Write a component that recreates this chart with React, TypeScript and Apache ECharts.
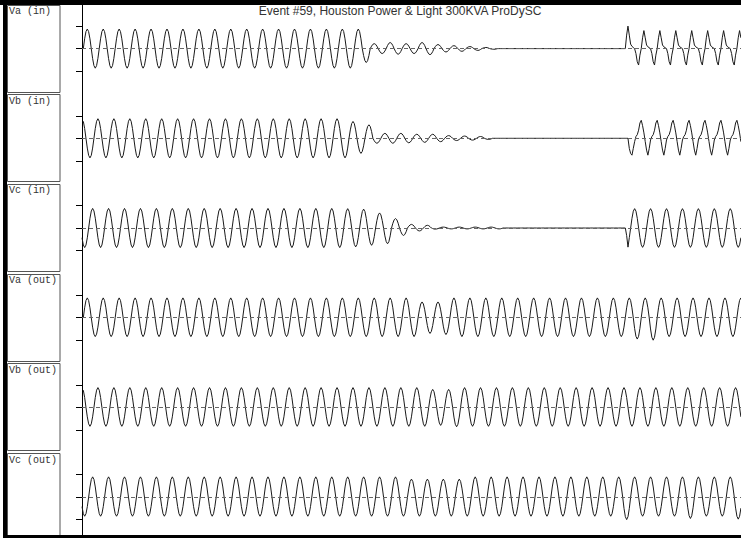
import React, { useEffect, useRef } from "react";
import * as echarts from "echarts";

const TITLE = "Event #59, Houston Power & Light 300KVA ProDySC";
const CHANNELS = ["Va (in)", "Vb (in)", "Vc (in)", "Va (out)", "Vb (out)", "Vc (out)"];

// time axis (ms), 60 Hz
const PERIOD_MS = 16.667;
const TIME_MAX_MS = 689;
// time of the upward zero crossing of cycle 0 for each channel
const PHASE_START_MS = [1.36, -4.18, -9.72, 1.36, -4.18, -9.72];

// one cycle, 12 samples from the upward zero crossing
const SHAPE_SINE = [0, 0.5, 0.87, 1, 0.87, 0.5, 0, -0.5, -0.87, -1, -0.87, -0.5];
const SHAPE_NOTCH_A = [0, 0.6, 1, 0.6, 0.2, 0.1, 0.05, 0, -0.3, -0.8, -1, -0.4];
const SHAPE_NOTCH_B = [0.1, 0.2, 0.45, 0.85, 1, 0.7, 0.3, -0.2, -0.7, -1, -0.6, -0.1];
const SHAPE_RESUME_B = [0, 0, 0, 0, 0, 0, 0, -0.6, -0.9, -1, -0.6, -0.2];
const SHAPE_RESUME_C = [0, 0, 0, 0, 0, 0, 0, 0, 0, -0.4, -1, -0.5];

// runs of cycles: [cycle count, positive peak, negative peak, shape]
type Run = [number, number, number, string];
const VA_IN: Run[] = [
  [17, 0.87, 0.87, "s"], [1, 0.87, 0.62, "s"], [1, 0.22, 0.22, "s"], [1, 0.27, 0.25, "s"],
  [1, 0.22, 0.22, "s"], [1, 0.27, 0.27, "s"], [1, 0.18, 0.15, "s"], [1, 0.13, 0.12, "s"],
  [1, 0.09, 0.08, "s"], [1, 0.05, 0.03, "s"], [8, 0, 0, "s"], [1, 1.0, 0.73, "a"], [7, 0.8, 0.73, "a"],
];
const VB_IN: Run[] = [
  [17, 0.87, 0.87, "s"], [1, 0.75, 0.67, "s"], [1, 0.6, 0.22, "s"], [1, 0.22, 0.22, "s"],
  [1, 0.22, 0.2, "s"], [1, 0.18, 0.18, "s"], [1, 0.18, 0.15, "s"], [1, 0.12, 0.1, "s"],
  [1, 0.1, 0.08, "s"], [1, 0.08, 0.05, "s"], [8, 0, 0, "s"], [1, 0, 0.75, "rb"], [7, 0.8, 0.75, "b"],
];
const VC_IN: Run[] = [
  [17, 0.87, 0.87, "s"], [1, 0.86, 0.84, "s"], [1, 0.84, 0.77, "s"], [1, 0.67, 0.7, "s"],
  [1, 0.42, 0.33, "s"], [1, 0.16, 0.13, "s"], [1, 0.12, 0.05, "s"], [4, 0.04, 0.04, "s"],
  [7, 0, 0, "s"], [1, 0, 0.85, "rc"], [7, 0.86, 0.86, "s"],
];
const VA_OUT: Run[] = [
  [21, 0.88, 0.84, "s"], [1, 0.7, 0.7, "s"], [1, 0.7, 0.75, "s"], [11, 0.88, 0.84, "s"],
  [1, 0.88, 0.95, "s"], [1, 0.88, 1.0, "s"], [6, 0.88, 0.84, "s"],
];
const VB_OUT: Run[] = [
  [22, 0.88, 0.84, "s"], [1, 0.8, 0.8, "s"], [1, 0.8, 0.86, "s"], [18, 0.88, 0.84, "s"],
];
const VC_OUT: Run[] = [
  [21, 0.9, 0.85, "s"], [4, 0.8, 0.85, "s"], [9, 0.9, 0.85, "s"], [1, 0.9, 1.0, "s"],
  [3, 0.9, 0.85, "s"], [1, 0.9, 0.95, "s"], [2, 0.9, 0.85, "s"], [1, 0.9, 0.98, "s"],
];
const CHANNEL_RUNS = [VA_IN, VB_IN, VC_IN, VA_OUT, VB_OUT, VC_OUT];

const SHAPES: Record<string, number[]> = {
  s: SHAPE_SINE, a: SHAPE_NOTCH_A, b: SHAPE_NOTCH_B, rb: SHAPE_RESUME_B, rc: SHAPE_RESUME_C,
};

function buildWave(runs: Run[], t0: number): number[][] {
  const pts: number[][] = [];
  let c = 0;
  for (const [count, pos, neg, shape] of runs) {
    const tpl = SHAPES[shape];
    for (let k = 0; k < count; k++, c++) {
      for (let j = 0; j < tpl.length; j++) {
        const t = t0 + (c + j / tpl.length) * PERIOD_MS;
        const v = tpl[j] >= 0 ? tpl[j] * pos : tpl[j] * neg;
        if (t >= 0 && t <= TIME_MAX_MS) pts.push([t, v]);
      }
    }
  }
  return pts;
}

const W = 741;
const H = 538;
const PLOT_LEFT = 82;
const PANEL_PITCH = 89.7;
const CENTER0 = 48.6;
const HALF = 22.5;
const BOX_TOP0 = 4.5;

export default function App() {
  const ref = useRef<HTMLDivElement>(null);
  useEffect(() => {
    document.body.style.margin = "0";
    if (!ref.current) return;
    const chart = echarts.init(ref.current, undefined, { renderer: "svg" });
    const grids: any[] = [];
    const xAxes: any[] = [];
    const yAxes: any[] = [];
    const series: any[] = [];
    const graphics: any[] = [];

    CHANNELS.forEach((name, k) => {
      const center = CENTER0 + PANEL_PITCH * k;
      grids.push({ left: PLOT_LEFT, right: 0, top: center - HALF, height: HALF * 2 });
      xAxes.push({ type: "value", gridIndex: k, min: 0, max: TIME_MAX_MS, show: false });
      yAxes.push({
        type: "value", gridIndex: k, min: -1, max: 1, interval: 1,
        axisLine: { show: true, lineStyle: { color: "#000", width: 1 } },
        axisTick: { show: true, length: 6, lineStyle: { color: "#000", width: 1 } },
        axisLabel: { show: false },
        splitLine: { show: false },
      });
      series.push({
        type: "line", xAxisIndex: k, yAxisIndex: k,
        data: buildWave(CHANNEL_RUNS[k], PHASE_START_MS[k]),
        showSymbol: false, symbol: "none", clip: false, silent: true,
        lineStyle: { color: "#1a1a1a", width: 1 },
        markLine: {
          silent: true, symbol: ["none", "none"], label: { show: false },
          lineStyle: { color: "#666", type: [4, 3], width: 1 },
          data: [{ yAxis: 0 }],
        },
      });
      const boxTop = BOX_TOP0 + PANEL_PITCH * k;
      const boxBottom = k < CHANNELS.length - 1 ? BOX_TOP0 + PANEL_PITCH * (k + 1) - 3 : H - 3;
      graphics.push({
        type: "rect", shape: { x: 7.5, y: Math.round(boxTop) + 0.5, width: 52.5, height: Math.round(boxBottom - boxTop) },
        style: { fill: "none", stroke: "#555", lineWidth: 1 }, silent: true,
      });
      graphics.push({
        type: "text", x: 9, y: boxTop + 7,
        style: { text: name, fill: "#333", font: "10px 'Liberation Mono', monospace", textVerticalAlign: "middle" },
        silent: true,
      });
    });

    graphics.push({ type: "line", shape: { x1: PLOT_LEFT + 0.5, y1: 5, x2: PLOT_LEFT + 0.5, y2: H - 3 }, style: { stroke: "#000", lineWidth: 1 }, silent: true });
    graphics.push({ type: "rect", shape: { x: 0, y: 0, width: W, height: 5 }, style: { fill: "#000" }, silent: true, z: 10 });
    graphics.push({ type: "rect", shape: { x: 3, y: 0, width: 4, height: H }, style: { fill: "#000" }, silent: true, z: 10 });
    graphics.push({ type: "rect", shape: { x: 3, y: H - 3, width: W, height: 3 }, style: { fill: "#000" }, silent: true, z: 10 });
    graphics.push({
      type: "text", x: 400, y: 11,
      style: { text: TITLE, fill: "#333", font: "12px 'Liberation Sans', Arial, sans-serif", textAlign: "center", textVerticalAlign: "middle" },
      silent: true,
    });

    chart.setOption({
      animation: false,
      backgroundColor: "#fff",
      grid: grids,
      xAxis: xAxes,
      yAxis: yAxes,
      series,
      graphic: graphics,
    });
    return () => chart.dispose();
  }, []);
  return <div ref={ref} style={{ width: W, height: H }} />;
}
